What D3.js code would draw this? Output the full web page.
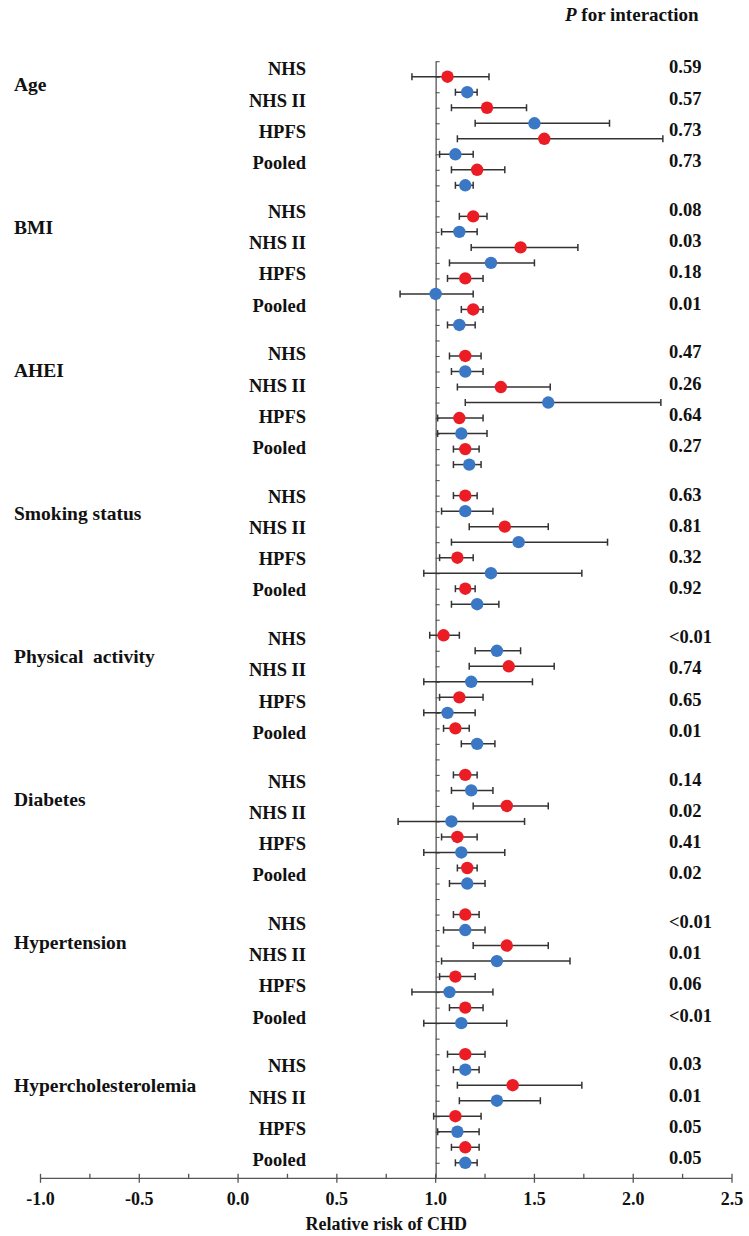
<!DOCTYPE html>
<html>
<head>
<meta charset="utf-8">
<script src="https://cdn.jsdelivr.net/npm/d3@7/dist/d3.min.js"></script>
<style>
  html, body { margin: 0; padding: 0; background: #fff; }
</style>
</head>
<body>
<svg id="chart" width="749" height="1236"></svg>
<script>
// ---- data ----
const groups = ["Age", "BMI", "AHEI", "Smoking status", "Physical  activity", "Diabetes", "Hypertension", "Hypercholesterolemia"];
const cohorts = ["NHS", "NHS II", "HPFS", "Pooled"];
const pInteraction = [
  ["0.59", "0.57", "0.73", "0.73"],
  ["0.08", "0.03", "0.18", "0.01"],
  ["0.47", "0.26", "0.64", "0.27"],
  ["0.63", "0.81", "0.32", "0.92"],
  ["<0.01", "0.74", "0.65", "0.01"],
  ["0.14", "0.02", "0.41", "0.02"],
  ["<0.01", "0.01", "0.06", "<0.01"],
  ["0.03", "0.01", "0.05", "0.05"]
];
// red series: [rr, lower, upper] per group x cohort
const redRR = [
  [[1.06, 0.88, 1.27], [1.26, 1.08, 1.46], [1.55, 1.11, 2.15], [1.21, 1.08, 1.35]],
  [[1.19, 1.12, 1.26], [1.43, 1.18, 1.72], [1.15, 1.06, 1.24], [1.19, 1.13, 1.24]],
  [[1.15, 1.07, 1.23], [1.33, 1.11, 1.58], [1.12, 1.01, 1.24], [1.15, 1.09, 1.22]],
  [[1.15, 1.09, 1.21], [1.35, 1.17, 1.57], [1.11, 1.02, 1.19], [1.15, 1.10, 1.20]],
  [[1.04, 0.97, 1.12], [1.37, 1.17, 1.60], [1.12, 1.02, 1.24], [1.10, 1.04, 1.17]],
  [[1.15, 1.09, 1.21], [1.36, 1.19, 1.57], [1.11, 1.03, 1.21], [1.16, 1.11, 1.21]],
  [[1.15, 1.09, 1.22], [1.36, 1.19, 1.57], [1.10, 1.02, 1.20], [1.15, 1.07, 1.24]],
  [[1.15, 1.06, 1.25], [1.39, 1.11, 1.74], [1.10, 0.99, 1.23], [1.15, 1.08, 1.22]]
];
// blue series
const blueRR = [
  [[1.16, 1.10, 1.21], [1.50, 1.20, 1.88], [1.10, 1.02, 1.19], [1.15, 1.10, 1.19]],
  [[1.12, 1.03, 1.21], [1.28, 1.07, 1.50], [1.00, 0.82, 1.19], [1.12, 1.06, 1.20]],
  [[1.15, 1.08, 1.24], [1.57, 1.15, 2.14], [1.13, 1.01, 1.26], [1.17, 1.09, 1.23]],
  [[1.15, 1.03, 1.29], [1.42, 1.08, 1.87], [1.28, 0.94, 1.74], [1.21, 1.08, 1.32]],
  [[1.31, 1.20, 1.43], [1.18, 0.94, 1.49], [1.06, 0.94, 1.20], [1.21, 1.13, 1.30]],
  [[1.18, 1.08, 1.29], [1.08, 0.81, 1.45], [1.13, 0.94, 1.35], [1.16, 1.07, 1.25]],
  [[1.15, 1.04, 1.25], [1.31, 1.03, 1.68], [1.07, 0.88, 1.29], [1.13, 0.94, 1.36]],
  [[1.15, 1.09, 1.22], [1.31, 1.12, 1.53], [1.11, 1.01, 1.22], [1.15, 1.10, 1.21]]
];
const xTicks = [-1.0, -0.5, 0.0, 0.5, 1.0, 1.5, 2.0, 2.5];
const xTickLabels = ["-1.0", "-0.5", "0.0", "0.5", "1.0", "1.5", "2.0", "2.5"];
const xMinorTicks = [-0.75, -0.25, 0.25, 0.75, 1.25, 1.75, 2.25];
const xTitle = "Relative risk of CHD";
const pHeader = ["P", " for interaction"];

// ---- build rows ----
const ROWS_PER_GROUP = 9;
const rows = [];
groups.forEach((g, gi) => {
  cohorts.forEach((c, ci) => {
    rows.push({ series: "red", gi, ci, v: redRR[gi][ci], idx: gi * ROWS_PER_GROUP + ci * 2 });
    rows.push({ series: "blue", gi, ci, v: blueRR[gi][ci], idx: gi * ROWS_PER_GROUP + ci * 2 + 1 });
  });
});
const nRows = groups.length * ROWS_PER_GROUP - 1; // 71

const FONT = "'Liberation Serif', 'Times New Roman', Tinos, 'DejaVu Serif', serif";
const svg = d3.select("#chart")
  .attr("font-family", FONT).attr("font-weight", "bold");
const x = d3.scaleLinear().domain([-1, 2.5]).range([40.5, 732]);
const y = d3.scaleLinear().domain([-1, nRows]).range([61.2, 1178.3]);
// label placement scales
const groupLabelY = d3.scaleLinear().domain([0, groups.length - 1]).range([84, 1085]);
const cohortLabelY = d3.scaleLinear().domain([0, groups.length - 1]).range([69, 1066]);
const cohortStep = 31.2;

const colors = { red: "#ec1c24", blue: "#3a78c6" };
const axisColor = "#555";
const textColor = "#111";

// x axis
const xAxisG = svg.append("g").attr("transform", `translate(0,${y(nRows)})`);
xAxisG.append("line").attr("x1", x(-1)).attr("x2", x(2.5)).attr("stroke", axisColor).attr("stroke-width", 1.3);
xAxisG.selectAll("line.major").data(xTicks).join("line").attr("class", "major")
  .attr("x1", d => x(d)).attr("x2", d => x(d)).attr("y1", -4.5).attr("y2", 4.5)
  .attr("stroke", axisColor).attr("stroke-width", 1.3);
xAxisG.selectAll("line.minor").data(xMinorTicks).join("line").attr("class", "minor")
  .attr("x1", d => x(d)).attr("x2", d => x(d)).attr("y1", -4.5).attr("y2", 0)
  .attr("stroke", axisColor).attr("stroke-width", 1.3);
xAxisG.selectAll("text").data(xTicks).join("text")
  .attr("x", d => x(d)).attr("y", 27).attr("text-anchor", "middle").attr("fill", textColor)
  .attr("font-size", 18).text((d, i) => xTickLabels[i]);
svg.append("text").attr("x", (x(-1) + x(2.5)) / 2).attr("y", 1230).attr("fill", textColor)
  .attr("text-anchor", "middle").attr("font-size", 18).text(xTitle);

// vertical reference axis at RR = 1
const yAxis = d3.axisRight(y).tickValues(d3.range(-1, nRows)).tickFormat("").tickSize(4).tickSizeOuter(0);
const yAxisG = svg.append("g").attr("transform", `translate(${x(1)},0)`).call(yAxis);
yAxisG.select(".domain").attr("stroke", axisColor).attr("stroke-width", 1.3);
yAxisG.selectAll(".tick line").attr("stroke", axisColor).attr("stroke-width", 1.1);

// error bars
const eb = svg.append("g").selectAll("g").data(rows).join("g")
  .attr("transform", d => `translate(0,${y(d.idx)})`);
eb.append("line").attr("x1", d => x(d.v[1])).attr("x2", d => x(d.v[2]))
  .attr("stroke", "#333").attr("stroke-width", 1.5);
eb.append("line").attr("x1", d => x(d.v[1])).attr("x2", d => x(d.v[1])).attr("y1", -3.5).attr("y2", 3.5)
  .attr("stroke", "#333").attr("stroke-width", 1.5);
eb.append("line").attr("x1", d => x(d.v[2])).attr("x2", d => x(d.v[2])).attr("y1", -3.5).attr("y2", 3.5)
  .attr("stroke", "#333").attr("stroke-width", 1.5);
eb.append("circle").attr("cx", d => x(d.v[0])).attr("cy", 0).attr("r", 6.2)
  .attr("fill", d => colors[d.series]);

// group labels
svg.append("g").selectAll("text").data(groups).join("text")
  .attr("x", 14).attr("y", (d, i) => groupLabelY(i)).attr("dy", "0.35em").attr("fill", textColor)
  .attr("font-size", 19.5).style("white-space", "pre").text(d => d);

// cohort labels & p-values
const lab = [];
groups.forEach((g, gi) => cohorts.forEach((c, ci) => lab.push({ gi, ci, c, p: pInteraction[gi][ci] })));
svg.append("g").selectAll("text").data(lab).join("text")
  .attr("x", 306).attr("y", d => cohortLabelY(d.gi) + d.ci * cohortStep).attr("dy", "0.35em")
  .attr("text-anchor", "end").attr("font-size", 18.5).attr("fill", textColor).text(d => d.c);
svg.append("g").selectAll("text").data(lab).join("text")
  .attr("x", 669).attr("y", d => cohortLabelY(d.gi) + d.ci * cohortStep - 2).attr("dy", "0.35em")
  .attr("font-size", 18.5).attr("fill", textColor).text(d => d.p);

// header
const hdr = svg.append("text").attr("x", 565).attr("y", 21).attr("font-size", 19).attr("fill", textColor);
hdr.append("tspan").attr("font-style", "italic").text(pHeader[0]);
hdr.append("tspan").text(pHeader[1]);
</script>
</body>
</html>
